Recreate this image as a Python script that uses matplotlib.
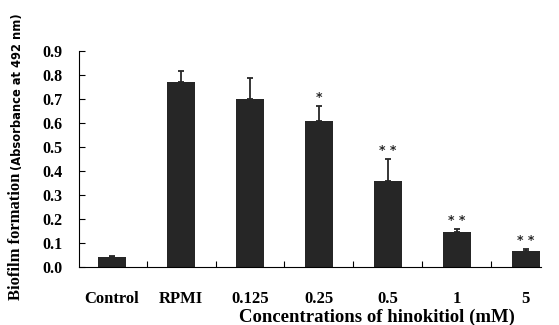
import numpy as np
import matplotlib
matplotlib.use('Agg')
import matplotlib.pyplot as plt

groups = ['Control', 'RPMI', '0.125', '0.25', '0.5', '1', '5']
values = [0.041, 0.77, 0.70, 0.607, 0.358, 0.144, 0.066]
errors = [0.005, 0.047, 0.085, 0.062, 0.09, 0.013, 0.009]
stars = ['', '', '', '*', '* *', '* *', '* *']

serif = 'Liberation Serif'

fig = plt.figure(figsize=(5.59, 3.25), dpi=100)
ax = fig.add_axes([0.1413, 0.1785, 0.9678 - 0.1413, 0.844 - 0.1785])

x = np.arange(len(groups))
ax.bar(x, values, width=0.41, color='#262626', zorder=2)
ax.errorbar(x, values, yerr=[np.zeros(len(errors)), errors], fmt='none',
            ecolor='#262626', elinewidth=1.3, capsize=2.5, capthick=1.3, zorder=1)

for xi, v, e, s in zip(x, values, errors, stars):
    if s:
        ax.text(xi, v + e + 0.01, s, ha='center', va='bottom', fontsize=9,
                fontweight='bold', family='DejaVu Sans', color='#262626')

ax.set_xlim(-0.48, 6.22)
ax.set_ylim(0, 0.9)
ax.set_yticks(np.arange(0, 0.91, 0.1))
ax.set_yticklabels([f'{t:.1f}' for t in np.arange(0, 0.91, 0.1)],
                   family=serif, fontweight='bold', fontsize=11.5)
ax.tick_params(axis='y', direction='in', length=4, width=0.8, pad=12)

ax.set_xticks(x)
ax.set_xticklabels(groups, family=serif, fontweight='bold', fontsize=12)
ax.tick_params(axis='x', which='major', length=0, pad=17)
ax.set_xticks(x[:-1] + 0.5, minor=True)
ax.tick_params(axis='x', which='minor', direction='in', length=4, width=0.8)

ax.spines['top'].set_visible(False)
ax.spines['right'].set_visible(False)

fig.text(0.674, 0.025, 'Concentrations of hinokitiol (mM)', ha='center', va='center',
         family=serif, fontweight='bold', fontsize=13.5)

fig.canvas.draw()
renderer = fig.canvas.get_renderer()
t1 = fig.text(0.029, 25 / 325, 'Biofilm formation', rotation=90, rotation_mode='anchor',
              ha='left', va='center', family=serif, fontweight='bold', fontsize=12)
bb = t1.get_window_extent(renderer).transformed(fig.transFigure.inverted())
fig.text(0.032, bb.y1 + 0.008, '(Absorbance at 492 nm)', rotation=90, rotation_mode='anchor',
         ha='left', va='center', family='DejaVu Sans', fontweight='bold', fontsize=8.3)

fig.savefig('out.png', dpi=100)
